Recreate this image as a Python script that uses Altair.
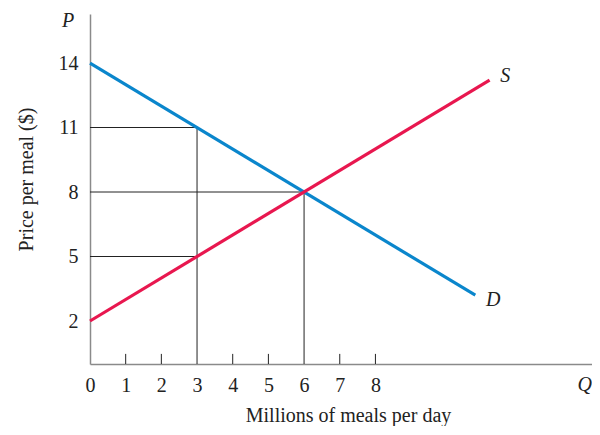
import altair as alt
import pandas as pd

# Data
q_ticks = [0, 1, 2, 3, 4, 5, 6, 7, 8]
p_ticks = [2, 5, 8, 11, 14]
minor_ticks = [1, 2, 4, 5, 7, 8]

demand_q = [0, 10.8]
demand_p = [14, 3.2]
supply_q = [0, 11.2]
supply_p = [2, 13.2]

# guide lines: horizontal (price level, q end) and vertical (q, price top)
h_p = [11, 8, 5]
h_q = [3, 6, 3]
v_q = [3, 6]
v_p = [11, 8]

XMAX = 14.07
YMAX = 16.28
FONT = "Liberation Serif"

xs = alt.Scale(domain=[0, XMAX], nice=False, zero=True)
ys = alt.Scale(domain=[0, YMAX], nice=False, zero=True)

df_d = pd.DataFrame({"q": demand_q, "p": demand_p})
df_s = pd.DataFrame({"q": supply_q, "p": supply_p})
df_h = pd.DataFrame({"q0": [0] * len(h_p), "q1": h_q, "p": h_p})
df_v = pd.DataFrame({"q": v_q, "p0": [0] * len(v_q), "p1": v_p})
df_t = pd.DataFrame({"q": minor_ticks, "p0": [0] * len(minor_ticks), "p1": [0.47] * len(minor_ticks)})

xaxis = alt.Axis(values=q_ticks, title="Millions of meals per day", ticks=False,
                 grid=False, labelFont=FONT, labelFontSize=20, labelColor="#222",
                 labelPadding=11, titleFont=FONT, titleFontSize=20,
                 titleFontWeight="normal", titleColor="#222",
                 titleX=258, titleY=51, titleBaseline="middle",
                 domainColor="#8a8a8a", domainWidth=1.5, labelFlush=False)
yaxis = alt.Axis(values=p_ticks, title="Price per meal ($)", ticks=False,
                 grid=False, labelFont=FONT, labelFontSize=20, labelColor="#222",
                 labelPadding=12, titleFont=FONT, titleFontSize=20,
                 titleFontWeight="normal", titleColor="#222", titlePadding=22,
                 titleY=165,
                 domainColor="#8a8a8a", domainWidth=1.5)

base_axes = alt.Chart(pd.DataFrame({"q": [0], "p": [0]})).mark_point(opacity=0).encode(
    x=alt.X("q:Q", scale=xs, axis=xaxis),
    y=alt.Y("p:Q", scale=ys, axis=yaxis),
)

hlines = alt.Chart(df_h).mark_rule(color="#222", strokeWidth=1).encode(
    x=alt.X("q0:Q", scale=xs), x2="q1:Q", y=alt.Y("p:Q", scale=ys))
vlines = alt.Chart(df_v).mark_rule(color="#222", strokeWidth=1).encode(
    x=alt.X("q:Q", scale=xs), y=alt.Y("p0:Q", scale=ys), y2="p1:Q")
ticks = alt.Chart(df_t).mark_rule(color="#222", strokeWidth=1).encode(
    x=alt.X("q:Q", scale=xs), y=alt.Y("p0:Q", scale=ys), y2="p1:Q")

demand = alt.Chart(df_d).mark_line(color="#0a86cc", strokeWidth=3.2).encode(
    x=alt.X("q:Q", scale=xs), y=alt.Y("p:Q", scale=ys))
supply = alt.Chart(df_s).mark_line(color="#e8174f", strokeWidth=3.2).encode(
    x=alt.X("q:Q", scale=xs), y=alt.Y("p:Q", scale=ys))

labels_df = pd.DataFrame({
    "q": [supply_q[1] + 0.3, demand_q[1] + 0.3],
    "p": [supply_p[1] + 0.2, demand_p[1] - 0.2],
    "t": ["S", "D"],
})
labels = alt.Chart(labels_df).mark_text(font=FONT, fontSize=20, fontStyle="italic",
                                         align="left", baseline="middle", color="#222").encode(
    x=alt.X("q:Q", scale=xs), y=alt.Y("p:Q", scale=ys), text="t:N")

pq_df = pd.DataFrame({"q": [0, XMAX], "p": [YMAX, 0], "t": ["P", "Q"]})
p_lab = alt.Chart(pq_df.iloc[[0]]).mark_text(font=FONT, fontSize=20, fontStyle="italic",
                                             align="center", baseline="middle", color="#222",
                                             dx=-22, dy=7).encode(
    x=alt.X("q:Q", scale=xs), y=alt.Y("p:Q", scale=ys), text="t:N")
q_lab = alt.Chart(pq_df.iloc[[1]]).mark_text(font=FONT, fontSize=20, fontStyle="italic",
                                             align="right", baseline="middle", color="#222",
                                             dx=0, dy=21).encode(
    x=alt.X("q:Q", scale=xs), y=alt.Y("p:Q", scale=ys), text="t:N")

chart = alt.layer(base_axes, hlines, vlines, ticks, demand, supply, labels, p_lab, q_lab).properties(
    width=502, height=350,
    background="white",
    autosize=alt.AutoSizeParams(type="none"),
    padding={"left": 82, "top": 6, "right": 0, "bottom": 62},
).configure_view(strokeWidth=0, stroke="transparent")

chart.save("out.html", embed_options={"renderer": "svg", "actions": False})
